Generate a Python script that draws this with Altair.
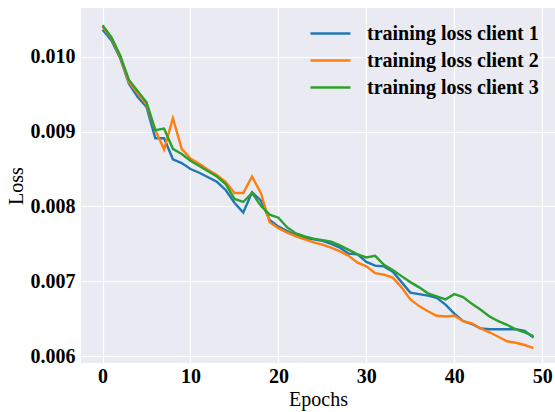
import altair as alt
import pandas as pd

epochs = list(range(50))
client1 = [0.01036, 0.01022, 0.00998, 0.00964, 0.00946, 0.00933, 0.00891, 0.00891, 0.00863, 0.00858,
           0.00850, 0.00845, 0.00839, 0.00833, 0.00822, 0.00805, 0.00792, 0.00819, 0.00808, 0.00782,
           0.00773, 0.00767, 0.00761, 0.00758, 0.00756, 0.00754, 0.00750, 0.00745, 0.00737, 0.00736,
           0.00726, 0.00721, 0.00720, 0.00713, 0.00699, 0.00685, 0.00683, 0.00681, 0.00678, 0.00669,
           0.00657, 0.00647, 0.00643, 0.00637, 0.00636, 0.00636, 0.00636, 0.00636, 0.00634, 0.00625]
client2 = [0.01040, 0.01025, 0.01000, 0.00966, 0.00951, 0.00936, 0.00902, 0.00876, 0.00918, 0.00877,
           0.00864, 0.00857, 0.00849, 0.00842, 0.00833, 0.00818, 0.00818, 0.00840, 0.00818, 0.00779,
           0.00771, 0.00765, 0.00760, 0.00756, 0.00752, 0.00749, 0.00745, 0.00740, 0.00734, 0.00725,
           0.00720, 0.00711, 0.00709, 0.00705, 0.00692, 0.00676, 0.00667, 0.00660, 0.00654, 0.00653,
           0.00654, 0.00647, 0.00644, 0.00637, 0.00632, 0.00626, 0.00620, 0.00618, 0.00615, 0.00611]
client3 = [0.01042, 0.01026, 0.01002, 0.00969, 0.00954, 0.00939, 0.00902, 0.00904, 0.00877, 0.00870,
           0.00861, 0.00854, 0.00847, 0.00840, 0.00830, 0.00810, 0.00806, 0.00818, 0.00801, 0.00789,
           0.00785, 0.00772, 0.00764, 0.00760, 0.00757, 0.00755, 0.00753, 0.00748, 0.00742, 0.00736,
           0.00732, 0.00734, 0.00722, 0.00715, 0.00707, 0.00699, 0.00692, 0.00684, 0.00680, 0.00676,
           0.00683, 0.00679, 0.00670, 0.00662, 0.00653, 0.00647, 0.00642, 0.00636, 0.00632, 0.00627]

series_names = ["training loss client 1", "training loss client 2", "training loss client 3"]
series_colors = ["#1f77b4", "#ff7f0e", "#2ca02c"]
x_ticks = [0, 10, 20, 30, 40, 50]
y_ticks = [0.006, 0.007, 0.008, 0.009, 0.010]

rows = []
for name, vals in zip(series_names, [client1, client2, client3]):
    for e, v in zip(epochs, vals):
        rows.append({"Epoch": e, "Loss": v, "Series": name})
df = pd.DataFrame(rows)

serif = "Liberation Serif"

chart = alt.Chart(df).mark_line(strokeWidth=2.4).encode(
    x=alt.X("Epoch:Q",
            scale=alt.Scale(domain=[-2.45, 51.45], nice=False, zero=False),
            axis=alt.Axis(values=x_ticks, title="Epochs", format="d")),
    y=alt.Y("Loss:Q",
            scale=alt.Scale(domain=[0.00591, 0.01065], nice=False, zero=False),
            axis=alt.Axis(values=y_ticks, title="Loss", format=".3f")),
    color=alt.Color("Series:N",
                    scale=alt.Scale(domain=series_names, range=series_colors),
                    legend=alt.Legend(title=None, orient="none", legendX=238, legendY=14,
                                      symbolType="M-2,0H2", symbolSize=400, symbolStrokeWidth=2.5,
                                      labelFont=serif, labelFontSize=20, labelFontWeight="bold",
                                      labelColor="black", labelOffset=25, rowPadding=5,
                                      labelLimit=300)),
).properties(
    width=474, height=355,
    autosize=alt.AutoSizeParams(type="none"),
    padding={"left": 81, "top": 8, "right": 0, "bottom": 49},
).configure_view(
    fill="#EAEAF2", stroke=None
).configure_axis(
    grid=True, gridColor="white", gridWidth=1.2, domain=False, ticks=False,
    labelFont=serif, labelFontSize=20, labelFontWeight="bold", labelColor="black",
    titleFont=serif, titleFontSize=20, titleFontWeight="normal", titleColor="black",
    labelPadding=6,
).configure_axisX(
    labelPadding=3, titlePadding=3
).configure_axisY(
    titlePadding=4
)

chart.save("out.html", embed_options={"renderer": "svg", "actions": False})
